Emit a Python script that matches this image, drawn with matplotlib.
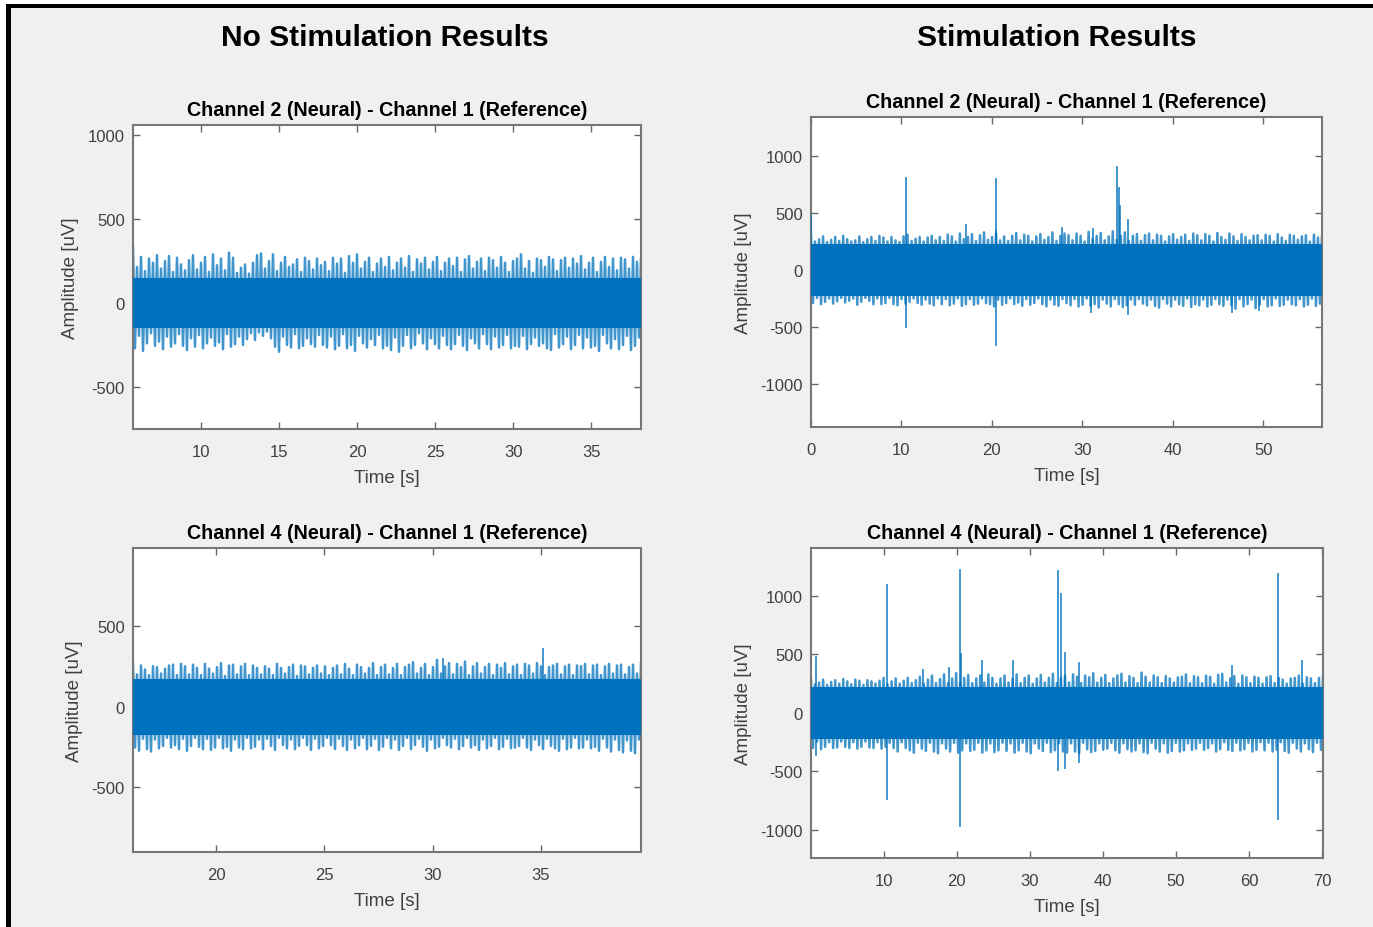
import numpy as np
import matplotlib
matplotlib.use("Agg")
import matplotlib.pyplot as plt
from matplotlib.patches import Rectangle

plt.rcParams['font.family'] = ['Liberation Sans', 'DejaVu Sans']
plt.rcParams['axes.unicode_minus'] = False

# ---- values (amplitude in uV, time in s) ----
# every panel: time span, dense core band, peak / trough readings spread evenly
# over the span, and the few isolated spikes

# panel 1 : no stimulation, channel 2 - channel 1
p1_span = [5.64, 38.2]
p1_core = [150, -150]
p1_upper = [330, 215, 275, 190, 265, 240, 285, 205, 250, 280, 185, 270, 230, 195, 255, 285,
            200, 240, 275, 185, 290, 225, 265, 195, 300, 270, 180, 210, 230, 175, 240, 285,
            295, 205, 250, 290, 190, 240, 275, 215, 230, 260, 185, 270, 250, 200, 265, 225,
            245, 190, 270, 235, 265, 180, 280, 240, 290, 205, 245, 270, 185, 235, 265, 215,
            275, 195, 240, 265, 210, 280, 185, 260, 235, 270, 200, 245, 275, 190, 240, 265,
            220, 270, 185, 260, 280, 205, 245, 265, 190, 270, 255, 210, 275, 240, 185, 250,
            265, 290, 205, 250, 180, 265, 255, 215, 275, 260, 190, 255, 270, 210, 265, 235,
            280, 200, 240, 270, 185, 245, 275, 215, 265, 195, 270, 260, 205, 275, 245, 260]
p1_lower = [-270, -195, -285, -240, -180, -255, -230, -275, -200, -260, -240, -185, -255, -280, -210, -260,
            -190, -270, -240, -205, -255, -235, -275, -185, -260, -245, -200, -250, -215, -180, -220, -175,
            -195, -170, -210, -260, -290, -200, -250, -265, -185, -270, -255, -210, -245, -260, -190, -250,
            -265, -200, -275, -255, -185, -270, -250, -285, -195, -240, -265, -215, -250, -190, -270, -255,
            -280, -205, -290, -255, -190, -270, -250, -180, -240, -275, -210, -245, -270, -195, -250, -275,
            -245, -190, -255, -280, -210, -240, -270, -185, -245, -275, -200, -265, -250, -190, -270, -255,
            -260, -195, -275, -245, -205, -255, -240, -270, -280, -185, -265, -245, -200, -275, -250, -190,
            -270, -205, -265, -255, -285, -190, -240, -270, -215, -275, -250, -195, -280, -255, -205, -285]
p1_spk_up = []
p1_spk_dn = []

# panel 2 : stimulation, channel 2 - channel 1
p2_span = [0.0, 56.5]
p2_core = [228, -228]
p2_upper = [300, 250, 270, 295, 245, 265, 290, 255, 300, 270, 250, 260, 295, 245, 270, 290,
            255, 300, 285, 250, 290, 260, 245, 295, 310, 255, 275, 290, 250, 285, 300, 260,
            290, 255, 310, 295, 250, 320, 270, 290, 315, 255, 305, 330, 265, 290, 320, 260,
            295, 255, 300, 325, 260, 310, 300, 250, 295, 315, 265, 290, 330, 255, 300, 320,
            305, 260, 320, 300, 250, 335, 275, 300, 325, 260, 295, 340, 265, 300, 330, 255,
            300, 315, 255, 305, 320, 260, 310, 300, 250, 295, 315, 265, 290, 310, 255, 320,
            305, 260, 315, 300, 250, 325, 290, 265, 320, 295, 255, 315, 290, 260, 300, 305,
            260, 310, 300, 250, 315, 285, 255, 310, 300, 265, 295, 305, 250, 310, 285, 295]
p2_lower = [-290, -245, -300, -280, -250, -295, -275, -245, -285, -270, -250, -305, -280, -245, -270, -300,
            -250, -300, -290, -245, -300, -310, -255, -295, -280, -250, -290, -305, -260, -295, -310, -250,
            -300, -255, -310, -295, -250, -315, -300, -255, -305, -295, -250, -290, -300, -320, -260, -305,
            -290, -250, -300, -285, -315, -255, -305, -290, -250, -300, -320, -260, -305, -315, -255, -290,
            -310, -255, -320, -305, -250, -315, -300, -330, -260, -295, -320, -255, -300, -325, -310, -260,
            -305, -255, -295, -310, -260, -315, -330, -255, -295, -320, -260, -300, -315, -250, -325, -300,
            -310, -260, -320, -305, -255, -300, -315, -260, -310, -340, -255, -320, -300, -260, -335, -305,
            -255, -320, -310, -250, -315, -305, -260, -300, -310, -255, -320, -305, -250, -315, -295, -260]
p2_spk_up = [(0.05, 480), (10.5, 810), (17.1, 395), (20.4, 800), (20.5, 340), (27.7, 370),
             (31.2, 360), (33.8, 905), (34.0, 715), (34.2, 560), (35.0, 440)]
p2_spk_dn = [(10.5, -500), (20.4, -660), (31.0, -370), (35.0, -390), (46.5, -370), (49.5, -350)]

# panel 3 : no stimulation, channel 4 - channel 1
p3_span = [16.16, 39.63]
p3_core = [172, -175]
p3_upper = [265, 200, 255, 230, 195, 250, 245, 205, 235, 255, 260, 195, 265, 250, 200, 260,
            240, 195, 265, 235, 205, 245, 270, 190, 255, 260, 200, 250, 265, 195, 255, 240,
            200, 250, 235, 195, 265, 240, 205, 245, 260, 190, 255, 250, 200, 240, 255, 205,
            250, 195, 240, 255, 200, 265, 235, 195, 260, 245, 205, 240, 270, 195, 245, 260,
            200, 240, 265, 195, 245, 260, 275, 205, 240, 265, 195, 245, 290, 205, 250, 270,
            200, 265, 245, 280, 195, 250, 270, 205, 245, 265, 195, 260, 240, 270, 200, 250,
            260, 195, 265, 255, 205, 270, 250, 195, 245, 255, 265, 200, 250, 260, 195, 255,
            250, 265, 200, 255, 260, 195, 250, 265, 205, 255, 260, 200, 245, 260, 205, 270]
p3_lower = [-255, -275, -200, -265, -280, -205, -260, -245, -195, -255, -240, -265, -200, -275, -245, -195,
            -250, -265, -200, -270, -255, -195, -260, -250, -275, -205, -255, -265, -195, -260, -250, -205,
            -265, -200, -245, -270, -195, -240, -260, -205, -265, -245, -195, -240, -270, -200, -260, -245,
            -195, -240, -265, -200, -245, -270, -205, -260, -240, -195, -265, -245, -200, -270, -250, -195,
            -260, -205, -270, -245, -195, -265, -240, -200, -250, -275, -205, -260, -250, -195, -240, -255,
            -200, -265, -245, -195, -255, -240, -270, -205, -260, -245, -195, -265, -250, -200, -260, -255,
            -245, -195, -255, -270, -205, -240, -265, -200, -245, -260, -275, -200, -265, -255, -195, -260,
            -255, -205, -260, -250, -275, -200, -255, -280, -205, -270, -285, -210, -275, -290, -205, -285]
p3_spk_up = [(30.5, 295), (35.1, 355)]
p3_spk_dn = []

# panel 4 : stimulation, channel 4 - channel 1
p4_span = [0.07, 70.1]
p4_core = [222, -222]
p4_upper = [290, 245, 260, 285, 240, 265, 280, 250, 290, 270, 245, 285, 275, 240, 280, 270,
            250, 275, 300, 245, 270, 295, 250, 275, 300, 255, 280, 310, 250, 285, 320, 255,
            290, 330, 255, 295, 340, 260, 300, 325, 255, 295, 320, 260, 330, 300, 250, 295,
            320, 260, 295, 330, 255, 300, 320, 250, 295, 325, 260, 300, 335, 255, 300, 320,
            260, 330, 310, 255, 320, 305, 340, 260, 300, 325, 255, 295, 320, 335, 260, 315,
            300, 255, 345, 310, 260, 320, 305, 255, 315, 295, 260, 305, 310, 330, 255, 315,
            305, 255, 320, 310, 250, 325, 335, 260, 295, 315, 250, 320, 305, 255, 310, 300,
            250, 305, 315, 255, 300, 285, 250, 295, 300, 320, 250, 305, 295, 255, 300, 315]
p4_lower = [-300, -245, -310, -290, -250, -300, -295, -245, -290, -300, -250, -305, -290, -245, -295, -300,
            -250, -305, -290, -255, -300, -330, -250, -300, -320, -340, -255, -305, -325, -255, -330, -345,
            -260, -305, -330, -255, -340, -320, -260, -325, -315, -255, -340, -320, -260, -335, -320, -255,
            -325, -260, -340, -320, -255, -330, -345, -260, -305, -325, -255, -335, -320, -260, -330, -340,
            -260, -330, -345, -255, -310, -335, -325, -260, -315, -305, -255, -320, -340, -260, -310, -330,
            -320, -260, -335, -345, -255, -305, -330, -260, -340, -325, -255, -330, -320, -260, -315, -305,
            -255, -315, -300, -260, -330, -310, -250, -315, -325, -255, -320, -310, -255, -330, -315, -250,
            -320, -255, -330, -315, -250, -325, -340, -255, -305, -330, -260, -310, -335, -255, -315, -330]
p4_spk_up = [(0.8, 480), (10.4, 1090), (15.4, 370), (19.0, 380), (20.4, 1220), (20.6, 500),
             (23.4, 440), (27.7, 440), (33.8, 1215), (34.2, 1020), (34.8, 510), (36.7, 430),
             (57.6, 400), (63.9, 1190), (67.2, 440)]
p4_spk_dn = [(0.8, -360), (10.4, -735), (20.4, -965), (33.8, -490), (34.8, -470),
             (36.7, -420), (63.9, -905)]

col = '#0072BD'
txt = '#404040'

fig = plt.figure(figsize=(13.73, 9.28), dpi=100, facecolor='white')
W, H = 1373, 928
# gray window area + black frame lines (screenshot look)
fig.patches.append(Rectangle((11 / W, 0), 1 - 11 / W, 1 - 9 / H, transform=fig.transFigure,
                             facecolor='#f0f0f0', edgecolor='none', zorder=-10))
fig.patches.append(Rectangle((6 / W, 0), 5 / W, 1 - 5 / H, transform=fig.transFigure,
                             facecolor='black', edgecolor='none', zorder=-9))
fig.patches.append(Rectangle((6 / W, 1 - 9 / H), 1 - 6 / W, 4 / H, transform=fig.transFigure,
                             facecolor='black', edgecolor='none', zorder=-9))


def px_axes(l, t, r, b):
    return fig.add_axes([l / W, 1 - b / H, (r - l) / W, (b - t) / H])


def draw(ax, span, core, upper, lower, spk_up, spk_dn, ylim, yticks, xticks, title):
    ax.set_facecolor('white')
    n = len(upper)
    t = np.linspace(span[0], span[1], n)
    dt = (span[1] - span[0]) / (n - 1)
    # trace runs peak -> trough -> peak ...
    tt = np.ravel(np.column_stack([t, t + dt / 2]))
    yy = np.ravel(np.column_stack([upper, lower]))
    keep = tt <= span[1]
    ax.plot(tt[keep], yy[keep], color=col, lw=1.8, alpha=0.75, zorder=2)
    ax.fill_between(span, [core[1]] * 2, [core[0]] * 2, color=col, lw=0, zorder=3)
    for ts, v in spk_up + spk_dn:
        ax.plot([ts, ts], [0, v], color=col, lw=1.3, alpha=0.8, zorder=3)
    ax.set_xlim(span)
    ax.set_ylim(ylim)
    ax.set_yticks(yticks)
    ax.set_xticks(xticks)
    ax.tick_params(direction='in', length=5, width=1, color='#666666', labelcolor=txt,
                   labelsize=12, top=True, right=True)
    ax.tick_params(axis='x', pad=11)
    ax.tick_params(axis='y', pad=6)
    for s in ax.spines.values():
        s.set_color('#777777')
        s.set_linewidth(1.5)
    ax.set_xlabel('Time [s]', fontsize=13.5, color=txt, labelpad=7)
    ax.set_ylabel('Amplitude [uV]', fontsize=13.5, color=txt, labelpad=6)
    ax.set_title(title, fontsize=14.2, fontweight='bold', pad=7)


ax1 = px_axes(133, 126, 641, 430)
draw(ax1, p1_span, p1_core, p1_upper, p1_lower, p1_spk_up, p1_spk_dn,
     (-750, 1060), [-500, 0, 500, 1000], [10, 15, 20, 25, 30, 35],
     'Channel 2 (Neural) - Channel 1 (Reference)')
ax2 = px_axes(811, 118, 1322, 428)
draw(ax2, p2_span, p2_core, p2_upper, p2_lower, p2_spk_up, p2_spk_dn,
     (-1377, 1342), [-1000, -500, 0, 500, 1000], [0, 10, 20, 30, 40, 50],
     'Channel 2 (Neural) - Channel 1 (Reference)')
ax3 = px_axes(133, 549, 641, 853)
draw(ax3, p3_span, p3_core, p3_upper, p3_lower, p3_spk_up, p3_spk_dn,
     (-904, 985), [-500, 0, 500], [20, 25, 30, 35],
     'Channel 4 (Neural) - Channel 1 (Reference)')
ax4 = px_axes(811, 549, 1323, 859)
draw(ax4, p4_span, p4_core, p4_upper, p4_lower, p4_spk_up, p4_spk_dn,
     (-1240, 1410), [-1000, -500, 0, 500, 1000], [10, 20, 30, 40, 50, 60, 70],
     'Channel 4 (Neural) - Channel 1 (Reference)')

fig.text(385 / W, 1 - 38 / H, 'No Stimulation Results', ha='center', va='center',
         fontsize=21.5, fontweight='bold')
fig.text(1057 / W, 1 - 38 / H, 'Stimulation Results', ha='center', va='center',
         fontsize=21.5, fontweight='bold')

fig.savefig('out.png', dpi=100, facecolor=fig.get_facecolor())
